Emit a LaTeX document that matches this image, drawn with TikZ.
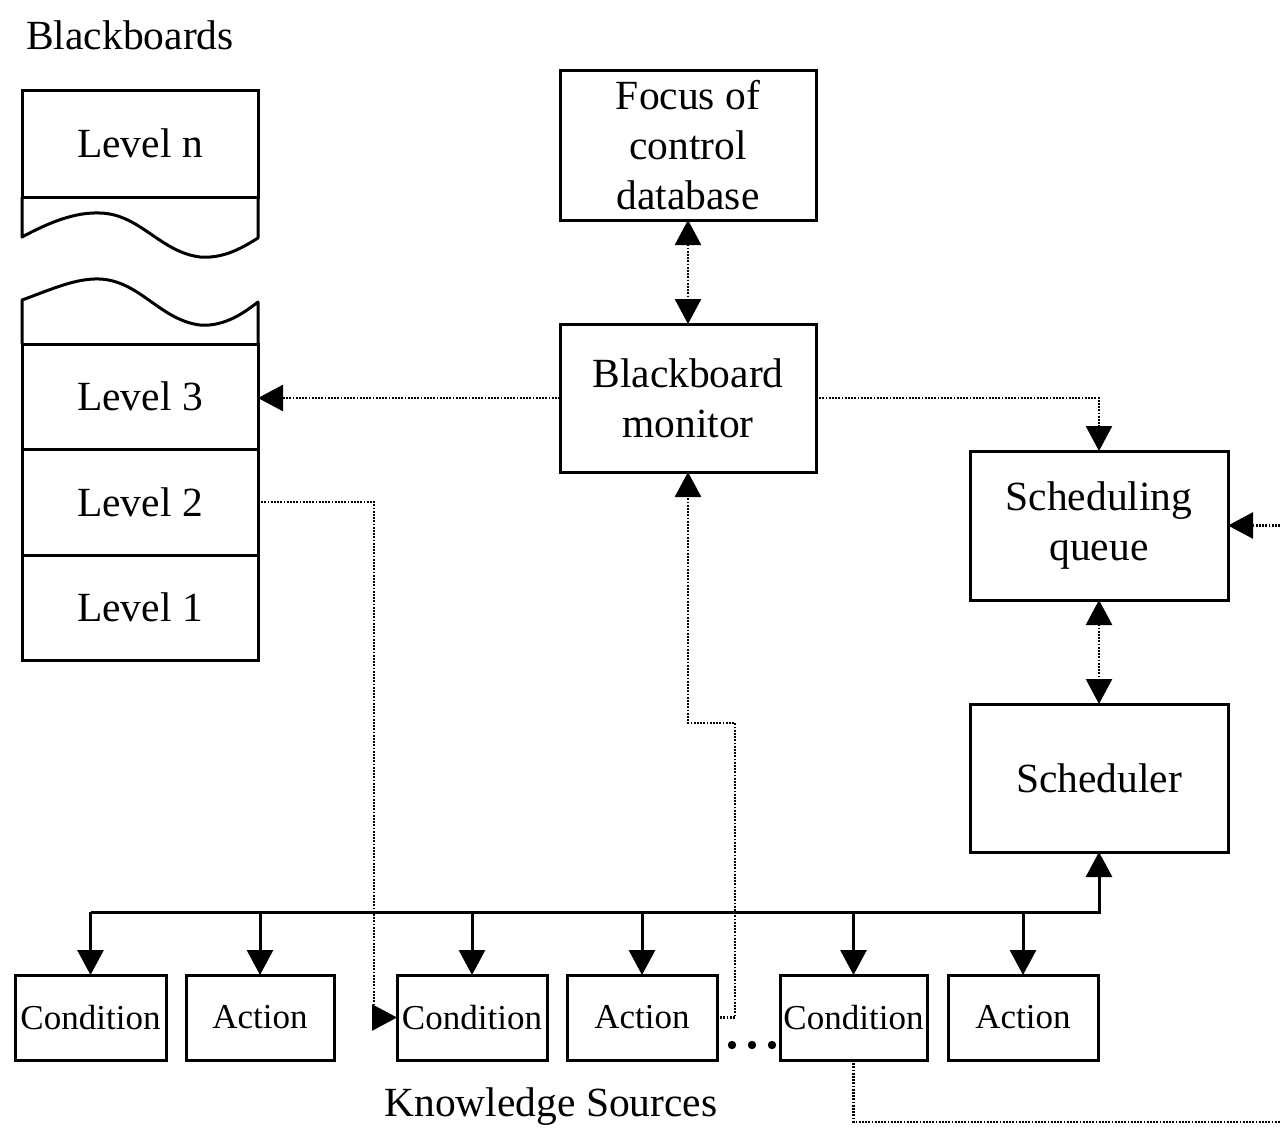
\documentclass[tikz,border=0pt]{standalone}
\usepackage{fontspec}
\setmainfont{Liberation Serif}
\usetikzlibrary{arrows.meta}
\begin{document}
\begin{tikzpicture}[x=1pt,y=-1pt,
  big/.style={font=\fontsize{41.5}{50}\selectfont},
  small/.style={font=\fontsize{35}{42}\selectfont},
  box/.style={draw, line width=3pt, inner sep=0pt, outer sep=0pt, align=center},
  ks/.style={box, small, minimum height=85pt},
  tip/.style={-{Triangle[length=25pt,width=26pt]}},
  bitip/.style={{Triangle[length=25pt,width=26pt]}-{Triangle[length=25pt,width=26pt]}},
  solidline/.style={line width=3pt},
  dotline/.style={line width=2.6pt, dash pattern=on 1.8pt off 1.4pt}
]
\useasboundingbox (0,0) rectangle (1280,1128);

% blackboard levels
\node[big] (bbtitle) at (130,35) {Blackboards};
\node[box, big, minimum width=236pt, minimum height=107pt] (ln) at (140,143.5) {Level n};
\node[box, big, minimum width=236pt, minimum height=105pt] (l3) at (140,396.5) {Level 3};
\node[box, big, minimum width=236pt, minimum height=106pt] (l2) at (140,502) {Level 2};
\node[box, big, minimum width=236pt, minimum height=105pt] (l1) at (140,607.5) {Level 1};

% torn edges between Level n and Level 3
\draw[solidline, line join=round] (ln.south west) -- (22,237)
  .. controls (50,222) and (75,212) .. (100,213)
  .. controls (140,214) and (160,252) .. (200,257)
  .. controls (225,259) and (245,246) .. (258,238) -- (ln.south east);
\draw[solidline, line join=round] (l3.north west) -- (22,300)
  .. controls (50,290) and (75,278) .. (100,279)
  .. controls (140,281) and (160,320) .. (200,325)
  .. controls (225,327) and (245,312) .. (258,302) -- (l3.north east);

% control components
\node[box, big, minimum width=256pt, minimum height=150pt] (foc) at (688,145) {Focus of\\control\\database};
\node[box, big, minimum width=256pt, minimum height=148pt] (mon) at (688,398) {Blackboard\\monitor};
\node[box, big, minimum width=258pt, minimum height=149pt] (que) at (1099,525.5) {Scheduling\\queue};
\node[box, big, minimum width=258pt, minimum height=148pt] (sch) at (1099,778) {Scheduler};

% knowledge sources
\node[ks, minimum width=151pt] (c1) at (90.5,1017.5) {Condition};
\node[ks, minimum width=148pt] (a1) at (260,1017.5) {Action};
\node[ks, minimum width=150pt] (c2) at (472,1017.5) {Condition};
\node[ks, minimum width=150pt] (a2) at (642,1017.5) {Action};
\node[ks, minimum width=147pt] (c3) at (853.5,1017.5) {Condition};
\node[ks, minimum width=150pt] (a3) at (1023,1017.5) {Action};
\node[big] (kstitle) at (551,1107) {Knowledge Sources};

% ellipsis between source groups
\fill (732,1045) circle (4.2pt) (752,1045) circle (4.2pt) (772,1045) circle (4.2pt);

% control bus to the knowledge sources
\coordinate (busL) at (c1.north |- 0,912);
\coordinate (busR) at (sch.south |- busL);
\draw[solidline, tip] (busL) -- (busR) -- (sch.south);
\foreach \n in {c1,a1,c2,a2,c3,a3}
  \draw[solidline, tip] (\n.north |- busL) -- (\n.north);

% dotted data flows
\draw[dotline, bitip] (foc.south) -- (mon.north);
\draw[dotline, bitip] (que.south) -- (sch.north);
\draw[dotline, tip] (mon.west) -- (mon.west -| l3.east);
\draw[dotline, tip] (mon.east) -| (que.north);
\draw[dotline, tip] (l2.east) -- ++(116,0) |- (c2.west);
\draw[dotline, tip] (a2.east) -- ++(18,0) -- ++(0,-294.5) -| (mon.south);
\coordinate (rin) at (1280,525.5);
\draw[dotline, tip] (rin) -- (que.east);
\coordinate (rout) at (1282,1122);
\draw[dotline] (c3.south) -- (c3.south |- rout) -- (rout);
\end{tikzpicture}
\end{document}
